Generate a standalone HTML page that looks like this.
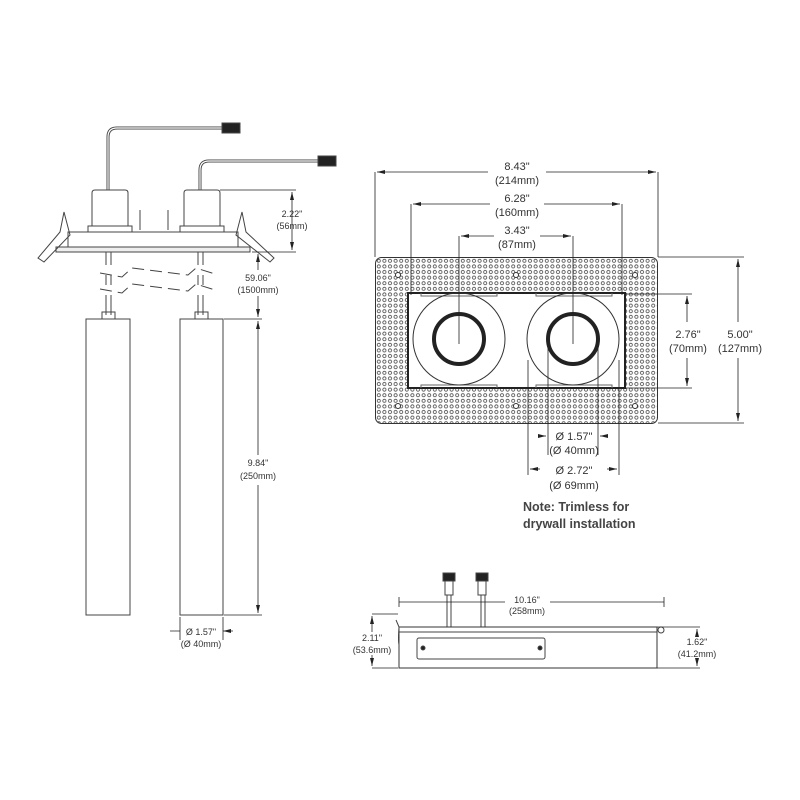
<!DOCTYPE html>
<html><head><meta charset="utf-8"><style>
html,body{margin:0;padding:0;background:#fff}
svg{display:block}
text{font-family:"Liberation Sans",sans-serif;fill:#333;text-anchor:middle}
</style></head><body>
<svg width="800" height="800" viewBox="0 0 800 800" xmlns="http://www.w3.org/2000/svg">
<defs>
<pattern id="dots" x="376" y="258" width="5.6" height="5.6" patternUnits="userSpaceOnUse">
<circle cx="2.8" cy="2.8" r="1.6" fill="none" stroke="#444" stroke-width="0.8"/>
</pattern>
<marker id="ar" markerWidth="8" markerHeight="6" refX="8" refY="3" orient="auto-start-reverse" markerUnits="userSpaceOnUse">
<path d="M0,1 L8,3 L0,5z" fill="#222"/>
</marker>
</defs>
<g stroke="#444" fill="none" stroke-width="1">
<path d="M108,190 V137 Q108,128 117,128 H222" stroke-width="3"/>
<path d="M108,190 V137 Q108,128 117,128 H222" stroke="#fff" stroke-width="1.2"/>
<path d="M200,190 V170 Q200,161 209,161 H318" stroke-width="3"/>
<path d="M200,190 V170 Q200,161 209,161 H318" stroke="#fff" stroke-width="1.2"/>
<rect x="222" y="123" width="18" height="10" fill="#222"/>
<rect x="318" y="156" width="18" height="10" fill="#222"/>
<path d="M92,226 V193 Q92,190 95,190 H125 Q128,190 128,193 V226"/>
<path d="M184,226 V193 Q184,190 187,190 H217 Q220,190 220,193 V226"/>
<rect x="88" y="226" width="44" height="6"/>
<rect x="180" y="226" width="44" height="6"/>
<rect x="68" y="232" width="170" height="15"/>
<rect x="56" y="247" width="194" height="5" fill="#eee"/>
<path d="M64,212 L70,235 L44,262 L38,258 L60,232 Z"/>
<path d="M242,212 L236,235 L270,262 L274,258 L246,232 Z"/>
<path d="M140,210 v20 M168,210 v20"/>
<path d="M106,252 V315 M111,252 V315 M198,252 V315 M203,252 V315"/>
<g stroke="#fff" stroke-width="10"><path d="M100,270 H215 M100,290 H215"/></g>
<path d="M100,273 L122,277 L132,268 L188,275 L196,268 L215,274" stroke-dasharray="12 6"/>
<path d="M100,289 L122,293 L132,284 L188,291 L196,284 L215,290" stroke-dasharray="12 6"/>
<rect x="102" y="312" width="13" height="7"/>
<rect x="195" y="312" width="13" height="7"/>
<rect x="86" y="319" width="44" height="296"/>
<rect x="180" y="319" width="43" height="296"/>
<g stroke="#222" stroke-width="0.8">
<path d="M220,190 H296 M252,252 H296 M224,319 H262 M224,615 H262"/>
<path d="M292,192 V250" marker-start="url(#ar)" marker-end="url(#ar)"/>
<path d="M258,254 V270 M258,296 V317" marker-start="url(#ar)" marker-end="url(#ar)"/>
<path d="M258,321 V455 M258,485 V613" marker-start="url(#ar)" marker-end="url(#ar)"/>
<path d="M180,617 V640 M223,617 V640"/>
<path d="M170,631 H180 M233,631 H223" marker-end="url(#ar)"/>
</g>
<rect x="375.5" y="257.5" width="282" height="166" rx="6" fill="url(#dots)" stroke="#333"/>
<rect x="408" y="293" width="217" height="95" fill="#fff" stroke="#222" stroke-width="2"/>
<path d="M421,293 V296 H497 V293 M536,293 V296 H612 V293 M421,388 V385 H497 V388 M536,388 V385 H612 V388" stroke="#666"/>
<g fill="#fff" stroke="#333"><circle cx="398" cy="275" r="2.5"/><circle cx="516" cy="275" r="2.5"/><circle cx="635" cy="275" r="2.5"/><circle cx="398" cy="406" r="2.5"/><circle cx="516" cy="406" r="2.5"/><circle cx="635" cy="406" r="2.5"/></g>
<circle cx="459" cy="339" r="46" stroke="#333"/>
<circle cx="573" cy="339" r="46" stroke="#333"/>
<circle cx="459" cy="339" r="25" stroke="#222" stroke-width="4"/>
<circle cx="573" cy="339" r="25" stroke="#222" stroke-width="4"/>
<g stroke="#222" stroke-width="0.8">
<path d="M375,172 V257 M658,172 V257 M411,204 V295 M622,204 V295 M459,236 V344 M573,236 V344"/>
<path d="M488,172 H377" marker-end="url(#ar)"/>
<path d="M546,172 H656" marker-end="url(#ar)"/>
<path d="M490,204 H413" marker-end="url(#ar)"/><path d="M544,204 H620" marker-end="url(#ar)"/>
<path d="M494,236 H461" marker-end="url(#ar)"/><path d="M540,236 H571" marker-end="url(#ar)"/>
<path d="M625,294 H692 M625,388 H692 M658,257 H744 M658,423 H744"/>
<path d="M687,322 V296" marker-end="url(#ar)"/><path d="M687,358 V386" marker-end="url(#ar)"/>
<path d="M738,322 V259" marker-end="url(#ar)"/><path d="M738,358 V421" marker-end="url(#ar)"/>
<path d="M548,345 V455 M598,345 V455 M528,360 V475 M619,360 V475"/>
<path d="M538,436 H546" marker-end="url(#ar)"/><path d="M608,436 H600" marker-end="url(#ar)"/>
<path d="M540,469 H530" marker-end="url(#ar)"/><path d="M607,469 H617" marker-end="url(#ar)"/>
</g>
<path d="M447,627 V595 M451,627 V595 M481,627 V595 M485,627 V595"/>
<rect x="443" y="573" width="12" height="8" fill="#222"/>
<rect x="476" y="573" width="12" height="8" fill="#222"/>
<rect x="445" y="581" width="8" height="14"/>
<rect x="478" y="581" width="8" height="14"/>
<rect x="399" y="627" width="258" height="41" stroke="#333"/>
<path d="M399,632 H657" />
<path d="M399,627 L396,620 M399,627 Q398,640 399,645"/>
<circle cx="661" cy="630" r="3"/>
<rect x="417" y="638" width="128" height="21" rx="2"/>
<circle cx="423" cy="648" r="2" fill="#222"/><circle cx="540" cy="648" r="2" fill="#222"/>
<g stroke="#222" stroke-width="0.8">
<path d="M399,597 V607 M664,597 V607 M399,602 H505 M550,602 H664"/>
<path d="M372,614 H398 M372,668 H398 M657,627 H700 M657,668 H700"/>
<path d="M372,632 V616" marker-end="url(#ar)"/><path d="M372,655 V666" marker-end="url(#ar)"/>
<path d="M697,635 V629" marker-end="url(#ar)"/><path d="M697,658 V666" marker-end="url(#ar)"/>
</g>
</g>
<g font-size="9">
<text x="292" y="217">2.22"</text><text x="292" y="229">(56mm)</text>
<text x="258" y="281">59.06"</text><text x="258" y="293">(1500mm)</text>
<text x="258" y="466">9.84"</text><text x="258" y="479">(250mm)</text>
<text x="201" y="635">Ø 1.57"</text><text x="201" y="647">(Ø 40mm)</text>
<text x="527" y="603">10.16"</text><text x="527" y="614">(258mm)</text>
<text x="372" y="641">2.11"</text><text x="372" y="653">(53.6mm)</text>
<text x="697" y="645">1.62"</text><text x="697" y="657">(41.2mm)</text>
</g>
<g font-size="11">
<text x="517" y="170">8.43"</text><text x="517" y="184">(214mm)</text>
<text x="517" y="202">6.28"</text><text x="517" y="216">(160mm)</text>
<text x="517" y="234">3.43"</text><text x="517" y="248">(87mm)</text>
<text x="688" y="338">2.76"</text><text x="688" y="352">(70mm)</text>
<text x="740" y="338">5.00"</text><text x="740" y="352">(127mm)</text>
<text x="574" y="440">Ø 1.57"</text><text x="574" y="454">(Ø 40mm)</text>
<text x="574" y="474">Ø 2.72"</text><text x="574" y="489">(Ø 69mm)</text>
</g>
<g font-size="12.5" font-weight="bold">
<text x="523" y="511" style="text-anchor:start;fill:#444">Note: Trimless for</text>
<text x="523" y="528" style="text-anchor:start;fill:#444">drywall installation</text>
</g>
</svg>
</body></html>
